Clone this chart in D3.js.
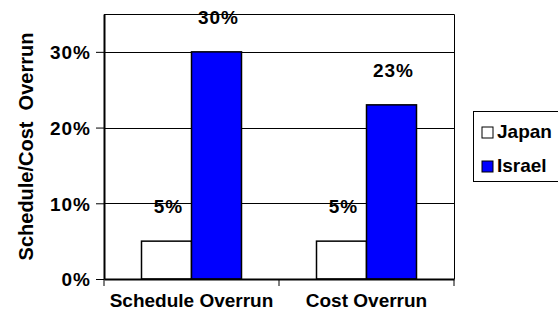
<!DOCTYPE html>
<html>
<head>
<meta charset="utf-8">
<script src="https://cdn.jsdelivr.net/npm/d3@7"></script>
<style>
  body { margin: 0; background: #fff; }
  text { font-family: "Liberation Sans", Arial, sans-serif; font-weight: bold; fill: #000; }
</style>
</head>
<body>
<div id="chart"></div>
<script>
var categories = ["Schedule Overrun", "Cost Overrun"];
var series = ["Japan", "Israel"];
var japanValues = [0.05, 0.05];
var israelValues = [0.30, 0.23];
var yTicks = [0, 0.1, 0.2, 0.3];
var colors = ["#ffffff", "#0000ff"];

var margin = {top: 14, right: 104, bottom: 35, left: 104},
    width = 558 - margin.left - margin.right,
    height = 314 - margin.top - margin.bottom;

var svg = d3.select("#chart")
  .append("svg")
    .attr("width", 558)
    .attr("height", 314)
  .append("g")
    .attr("transform", "translate(" + margin.left + "," + margin.top + ")");

// scales
var x = d3.scaleBand()
  .domain(categories)
  .range([0, width]);

var xs = d3.scaleBand()
  .domain(series)
  .range([0, x.bandwidth()])
  .paddingOuter(0.75);

var y = d3.scaleLinear()
  .domain([0, 0.35])
  .range([height, 0]);

var color = d3.scaleOrdinal().domain(series).range(colors);

var data = categories.map(function(c, i) {
  return {cat: c, vals: [
    {key: "Japan", v: japanValues[i]},
    {key: "Israel", v: israelValues[i]}
  ]};
});

// gridlines
svg.selectAll(".grid")
  .data(yTicks.filter(function(d) { return d > 0; }))
  .enter().append("line")
    .attr("x1", 0).attr("x2", width)
    .attr("y1", function(d) { return Math.round(y(d)) + 0.5; })
    .attr("y2", function(d) { return Math.round(y(d)) + 0.5; })
    .attr("stroke", "#000").attr("stroke-width", 1);

// plot border top/right
svg.append("path")
  .attr("d", "M0,0.5H" + (width + 0.5) + "V" + height)
  .attr("fill", "none").attr("stroke", "#000").attr("stroke-width", 1);

// bars
var groups = svg.selectAll(".cat")
  .data(data)
  .enter().append("g")
    .attr("transform", function(d) { return "translate(" + x(d.cat) + ",0)"; });

groups.selectAll("rect")
  .data(function(d) { return d.vals; })
  .enter().append("rect")
    .attr("x", function(d) { return xs(d.key); })
    .attr("y", function(d) { return y(d.v); })
    .attr("width", xs.bandwidth())
    .attr("height", function(d) { return height - y(d.v); })
    .attr("fill", function(d) { return color(d.key); })
    .attr("stroke", "#000").attr("stroke-width", 1.5);

groups.selectAll(".lbl")
  .data(function(d) { return d.vals; })
  .enter().append("text")
    .attr("x", function(d) { return xs(d.key) + xs.bandwidth() / 2 + 2; })
    .attr("y", function(d) { return y(d.v) - 28; })
    .attr("text-anchor", "middle")
    .style("font-size", "19px")
    .style("letter-spacing", "1px")
    .text(function(d) { return Math.round(d.v * 100) + "%"; });

// y axis
var yAxis = svg.append("g")
  .call(d3.axisLeft(y).tickValues(yTicks).tickFormat(d3.format(".0%"))
    .tickSize(8).tickSizeOuter(0).tickPadding(5));
yAxis.select(".domain").attr("stroke-width", 2);
yAxis.selectAll("text").style("font-size", "19px").style("letter-spacing", "1px").attr("dy", "0.36em");

// x axis
var xAxis = svg.append("g")
  .attr("transform", "translate(0," + height + ")")
  .call(d3.axisBottom(x).tickSize(0).tickPadding(12));
xAxis.select(".domain").attr("stroke-width", 2);
xAxis.selectAll("text").style("font-size", "19px").attr("dy", "0.85em");
// category separator ticks
xAxis.selectAll(".sep")
  .data(d3.range(categories.length + 1))
  .enter().append("line")
    .attr("x1", function(i) { return i * x.step(); })
    .attr("x2", function(i) { return i * x.step(); })
    .attr("y1", 0).attr("y2", 7)
    .attr("stroke", "#000").attr("stroke-width", 1);

// y title
svg.append("text")
  .attr("transform", "translate(" + (-margin.left + 33) + "," + (height / 2) + ") rotate(-90)")
  .attr("text-anchor", "middle")
  .style("font-size", "20px")
  .text("Schedule/Cost\u00a0 Overrun");

// legend
var legend = svg.append("g")
  .attr("transform", "translate(" + (width + 19) + ",97)");
legend.append("rect")
  .attr("x", 0.5).attr("y", 0.5)
  .attr("width", 120).attr("height", 70)
  .attr("fill", "#fff").attr("stroke", "#000").attr("stroke-width", 1);
var items = legend.selectAll(".item")
  .data(series)
  .enter().append("g")
    .attr("transform", function(d, i) { return "translate(9," + (16 + i * 34) + ")"; });
items.append("rect")
  .attr("width", 11).attr("height", 11)
  .attr("fill", function(d) { return color(d); })
  .attr("stroke", "#000").attr("stroke-width", 1);
items.append("text")
  .attr("x", 15).attr("y", 11)
  .style("font-size", "19px")
  .text(function(d) { return d; });
</script>
</body>
</html>
